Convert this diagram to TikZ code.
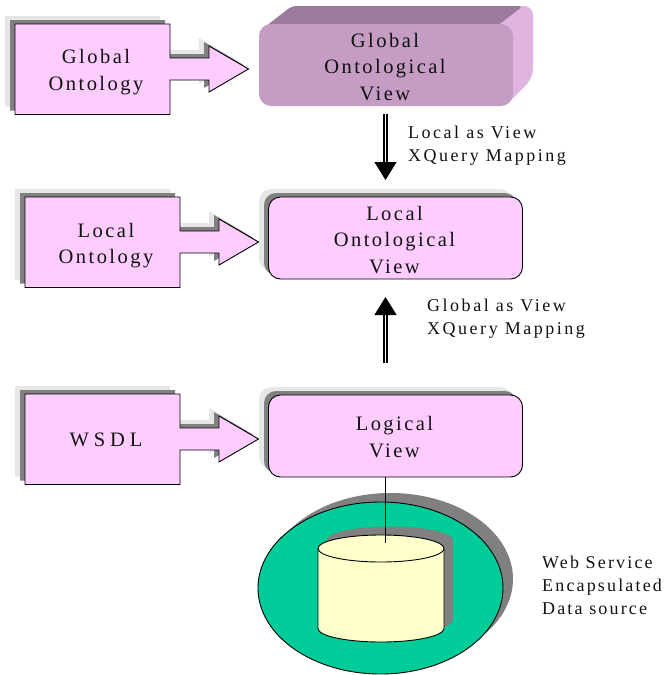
\documentclass[tikz,border=0pt]{standalone}
\usepackage{fontspec}
\setmainfont{Liberation Serif}
\newfontfamily\bigface[LetterSpace=12]{Liberation Serif}
\newfontfamily\wideface[LetterSpace=24]{Liberation Serif}
\newfontfamily\smallface[LetterSpace=14]{Liberation Serif}
\newfontfamily\tightface[LetterSpace=12]{Liberation Serif}
\usetikzlibrary{arrows.meta}
\definecolor{pinkfill}{HTML}{FFCCFF}
\definecolor{shdark}{HTML}{808080}
\definecolor{shlight}{HTML}{E6E6E6}
\definecolor{frontc}{HTML}{C49CC4}
\definecolor{topc}{HTML}{9B7A9B}
\definecolor{sidec}{HTML}{E0B4E0}
\definecolor{greenc}{HTML}{00CC99}
\definecolor{creamc}{HTML}{FFFFCC}
\definecolor{inkc}{HTML}{111111}
\tikzset{
  x=1pt,y=-1pt,
  bigtext/.style={text=inkc,font=\bigface\fontsize{20.5}{26.4}\selectfont,align=center,inner sep=0pt},
  smalltext/.style={text=inkc,font=\smallface\fontsize{18}{23}\selectfont,align=left,inner sep=0pt,anchor=north west},
  viewbox/.style={rectangle,draw=black,line width=0.9pt,fill=pinkfill,rounded corners=12pt,minimum width=254pt,minimum height=82pt,inner sep=0pt},
  maparrow/.style={draw=black,double=white,line width=1.25pt,double distance=1.8pt,-{Triangle[length=18pt,width=22pt]}},
  callshape/.pic={
    \path[pic actions] (0,0) -- (155,0) -- (155,34) -- (194,34) -- (194,22) -- (233.5,45) -- (194,68) -- (194,56) -- (155,56) -- (155,90.5) -- (0,90.5) -- cycle;
  },
}
\newcommand{\callout}[2]{%
  \pic[fill=shlight] at (#1-10,#2-8) {callshape};
  \pic[fill=shdark] at (#1-5,#2-4) {callshape};
  \pic[fill=pinkfill,draw=black,line width=0.9pt] at (#1,#2) {callshape};
}
\newcommand{\viewshadow}[4]{%
  \fill[shlight,rounded corners=12pt] (#1-10,#2-8) rectangle (#3-10,#4-8);
  \fill[shdark,rounded corners=12pt] (#1-5,#2-4) rectangle (#3-5,#4-4);
}
\begin{document}
\begin{tikzpicture}
\useasboundingbox (0,0) rectangle (665,675);
% callouts
\callout{15}{24}
\node[bigtext] (globalont) at (96,72) {Global\\Ontology};
\callout{25}{197}
\node[bigtext] (localont) at (106,245.5) {Local\\Ontology};
\callout{25}{394}
\node[bigtext,font=\wideface\fontsize{20.5}{26.4}\selectfont] (wsdl) at (106,440) {WSDL};
% global view block
\fill[sidec,rounded corners=9pt] (495,24) -- (515,6) -- (533,6) -- (533,78) -- (505,106) -- cycle;
\fill[topc,rounded corners=4pt] (266,26) -- (292,6) -- (523,6) -- (497,26) -- cycle;
\node[viewbox,draw=none,fill=frontc] (globalview) at (386,65) {};
\node[bigtext] (globalviewt) at (385,67) {Global\\Ontological\\View};
% local view
\viewshadow{269}{197}{522}{279}
\node[viewbox,draw=black] (localview) at (395.5,238) {};
\node[bigtext] (localviewt) at (394.5,240) {Local\\Ontological\\View};
% logical view
\viewshadow{269}{395}{522}{477}
\node[viewbox,draw=black] (logicalview) at (395.5,436) {};
\node[bigtext] (logicalviewt) at (394.5,437) {Logical\\View};
% data source
\fill[shdark] (390.5,579) ellipse [x radius=122.5pt,y radius=86pt];
\filldraw[fill=greenc,draw=black,line width=0.9pt] (380.5,588) ellipse [x radius=122.5pt,y radius=86pt];
\fill[shdark] (327,540) arc[start angle=180,end angle=0,x radius=63pt,y radius=13.5pt] -- (453,620) arc[start angle=0,end angle=-180,x radius=63pt,y radius=13.5pt] -- cycle;
\filldraw[fill=creamc,draw=black,line width=0.9pt] (318,548.5) -- (318,628.5) arc[start angle=180,end angle=360,x radius=63pt,y radius=13.5pt] -- (444,548.5) arc[start angle=0,end angle=180,x radius=63pt,y radius=13.5pt] -- cycle;
\draw[black,line width=0.9pt] (318,548.5) arc[start angle=180,end angle=360,x radius=63pt,y radius=13.5pt];
\coordinate (dbtop) at (385.5,543);
\draw[black,line width=0.9pt] (logicalview.south -| dbtop) -- (dbtop);
% mapping arrows
\coordinate (a1s) at (385.5,114);
\coordinate (a1e) at (385.5,180);
\coordinate (a2s) at (385.5,363);
\coordinate (a2e) at (385.5,297);
\draw[maparrow] (a1s) -- (a1e);
\draw[maparrow] (a2s) -- (a2e);
% labels
\node[smalltext] (lav) at (408,126) {Local as View\\XQuery Mapping};
\node[smalltext] (gav) at (427,299) {Global as View\\XQuery Mapping};
\node[smalltext,font=\tightface\fontsize{18}{23}\selectfont] (ws) at (542,556) {Web Service\\Encapsulated\\Data source};
\end{tikzpicture}
\end{document}
